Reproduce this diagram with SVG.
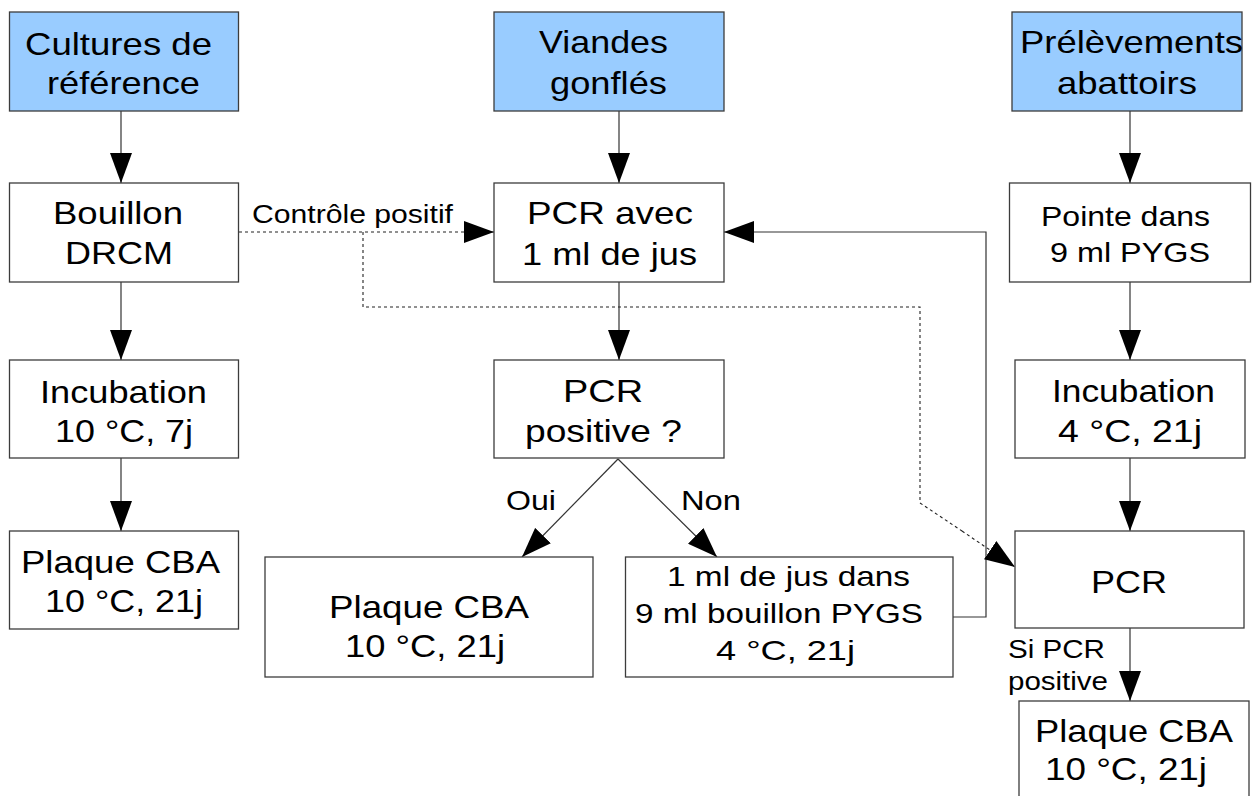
<svg xmlns="http://www.w3.org/2000/svg" width="1252" height="796" viewBox="0 0 1252 796">
<style>
text{font-family:"Liberation Sans",Arial,sans-serif;fill:#000}
.box{fill:#fff;stroke:#3c3c3c;stroke-width:1.3}
.src{fill:#99ccff;stroke:#3c3c3c;stroke-width:1.3}
.big{font-size:32px}
.mid{font-size:28.5px}
.lbl{font-size:26px}
.c{fill:none;stroke:#333;stroke-width:1.2;marker-end:url(#ah)}
.d{fill:none;stroke:#222;stroke-width:1.1;stroke-dasharray:3 3}
.da{marker-end:url(#ah)}
</style>
<defs>
<marker id="ah" markerUnits="userSpaceOnUse" markerWidth="30" markerHeight="22" refX="30" refY="11" orient="auto" viewBox="0 0 30 22">
<path d="M0,0 L30,11 L0,22 z" fill="#000"/>
</marker>
</defs>
<rect width="1252" height="796" fill="#fff"/>
<g id="connectors">
<path class="c" d="M121,111 V183"/>
<path class="c" d="M121,282 V360"/>
<path class="c" d="M121,458 V531"/>
<path class="c" d="M619,111 V183"/>
<path class="c" d="M619,282 V360"/>
<path class="c" d="M618,459 L522,557"/>
<path class="c" d="M618,459 L717,557"/>
<path class="c" d="M1130,111 V183"/>
<path class="c" d="M1130,282 V360"/>
<path class="c" d="M1130,458 V531"/>
<path class="c" d="M1130,628 V701"/>
<path class="c" d="M953,617 H986 V232 H724"/>
<path class="d da" d="M239,232 H494"/>
<path class="d" d="M363,232 V307 H920 V503 L962,531"/>
<path class="d da" d="M962,531 L1015,567"/>
<text class="lbl" x="252" y="223" textLength="201" lengthAdjust="spacingAndGlyphs">Contrôle positif</text>
<text class="mid" x="506" y="510" textLength="50" lengthAdjust="spacingAndGlyphs">Oui</text>
<text class="mid" x="681" y="510" textLength="60" lengthAdjust="spacingAndGlyphs">Non</text>
<text class="lbl" x="1008" y="658" textLength="97" lengthAdjust="spacingAndGlyphs">Si PCR</text>
<text class="lbl" x="1008" y="690" textLength="100" lengthAdjust="spacingAndGlyphs">positive</text>
</g>
<g id="n-cultures">
<rect class="src" x="9.5" y="12" width="229" height="99"/>
<text class="big" x="25" y="55" textLength="187" lengthAdjust="spacingAndGlyphs">Cultures de</text>
<text class="big" x="47" y="94" textLength="153" lengthAdjust="spacingAndGlyphs">référence</text>
</g>
<g id="n-bouillon">
<rect class="box" x="9.5" y="183" width="229" height="99"/>
<text class="big" x="53" y="224" textLength="130" lengthAdjust="spacingAndGlyphs">Bouillon</text>
<text class="big" x="65" y="264" textLength="108" lengthAdjust="spacingAndGlyphs">DRCM</text>
</g>
<g id="n-incub1">
<rect class="box" x="9.5" y="360" width="229" height="98"/>
<text class="big" x="40" y="403" textLength="167" lengthAdjust="spacingAndGlyphs">Incubation</text>
<text class="big" x="55" y="442" textLength="138" lengthAdjust="spacingAndGlyphs">10 °C, 7j</text>
</g>
<g id="n-plaque1">
<rect class="box" x="9.5" y="531" width="229" height="98"/>
<text class="big" x="21" y="573" textLength="199" lengthAdjust="spacingAndGlyphs">Plaque CBA</text>
<text class="big" x="45" y="612" textLength="158" lengthAdjust="spacingAndGlyphs">10 °C, 21j</text>
</g>
<g id="n-viandes">
<rect class="src" x="494" y="12" width="230" height="99"/>
<text class="big" x="539" y="53" textLength="129" lengthAdjust="spacingAndGlyphs">Viandes</text>
<text class="big" x="550" y="94" textLength="117" lengthAdjust="spacingAndGlyphs">gonflés</text>
</g>
<g id="n-pcravec">
<rect class="box" x="494" y="183" width="230" height="99"/>
<text class="big" x="527" y="224" textLength="166" lengthAdjust="spacingAndGlyphs">PCR avec</text>
<text class="big" x="522" y="265" textLength="175" lengthAdjust="spacingAndGlyphs">1 ml de jus</text>
</g>
<g id="n-pcrpos">
<rect class="box" x="494" y="360" width="230" height="98"/>
<text class="big" x="563" y="402" textLength="80" lengthAdjust="spacingAndGlyphs">PCR</text>
<text class="big" x="525" y="442" textLength="157" lengthAdjust="spacingAndGlyphs">positive ?</text>
</g>
<g id="n-plaque2">
<rect class="box" x="265" y="557" width="328" height="120"/>
<text class="big" x="329" y="618" textLength="200" lengthAdjust="spacingAndGlyphs">Plaque CBA</text>
<text class="big" x="345" y="657" textLength="160" lengthAdjust="spacingAndGlyphs">10 °C, 21j</text>
</g>
<g id="n-jus">
<rect class="box" x="625.5" y="557" width="327.5" height="120"/>
<text class="mid" x="667" y="586" textLength="243" lengthAdjust="spacingAndGlyphs">1 ml de jus dans</text>
<text class="mid" x="635" y="623" textLength="288" lengthAdjust="spacingAndGlyphs">9 ml bouillon PYGS</text>
<text class="mid" x="716" y="660" textLength="139" lengthAdjust="spacingAndGlyphs">4 °C, 21j</text>
</g>
<g id="n-prelev">
<rect class="src" x="1012" y="12" width="230" height="99"/>
<text class="big" x="1020" y="53" textLength="223" lengthAdjust="spacingAndGlyphs">Prélèvements</text>
<text class="big" x="1057" y="94" textLength="140" lengthAdjust="spacingAndGlyphs">abattoirs</text>
</g>
<g id="n-pointe">
<rect class="box" x="1009.5" y="183" width="241" height="99"/>
<text class="mid" x="1041" y="226" textLength="169" lengthAdjust="spacingAndGlyphs">Pointe dans</text>
<text class="mid" x="1050" y="262" textLength="160" lengthAdjust="spacingAndGlyphs">9 ml PYGS</text>
</g>
<g id="n-incub2">
<rect class="box" x="1015" y="360" width="230" height="98"/>
<text class="big" x="1052" y="402" textLength="163" lengthAdjust="spacingAndGlyphs">Incubation</text>
<text class="big" x="1058" y="442" textLength="144" lengthAdjust="spacingAndGlyphs">4 °C, 21j</text>
</g>
<g id="n-pcr">
<rect class="box" x="1015" y="531" width="229" height="97"/>
<text class="big" x="1091" y="593" textLength="76" lengthAdjust="spacingAndGlyphs">PCR</text>
</g>
<g id="n-plaque3">
<rect class="box" x="1019" y="701" width="230" height="110"/>
<text class="big" x="1035" y="742" textLength="198" lengthAdjust="spacingAndGlyphs">Plaque CBA</text>
<text class="big" x="1045" y="780" textLength="162" lengthAdjust="spacingAndGlyphs">10 °C, 21j</text>
</g>
</svg>
